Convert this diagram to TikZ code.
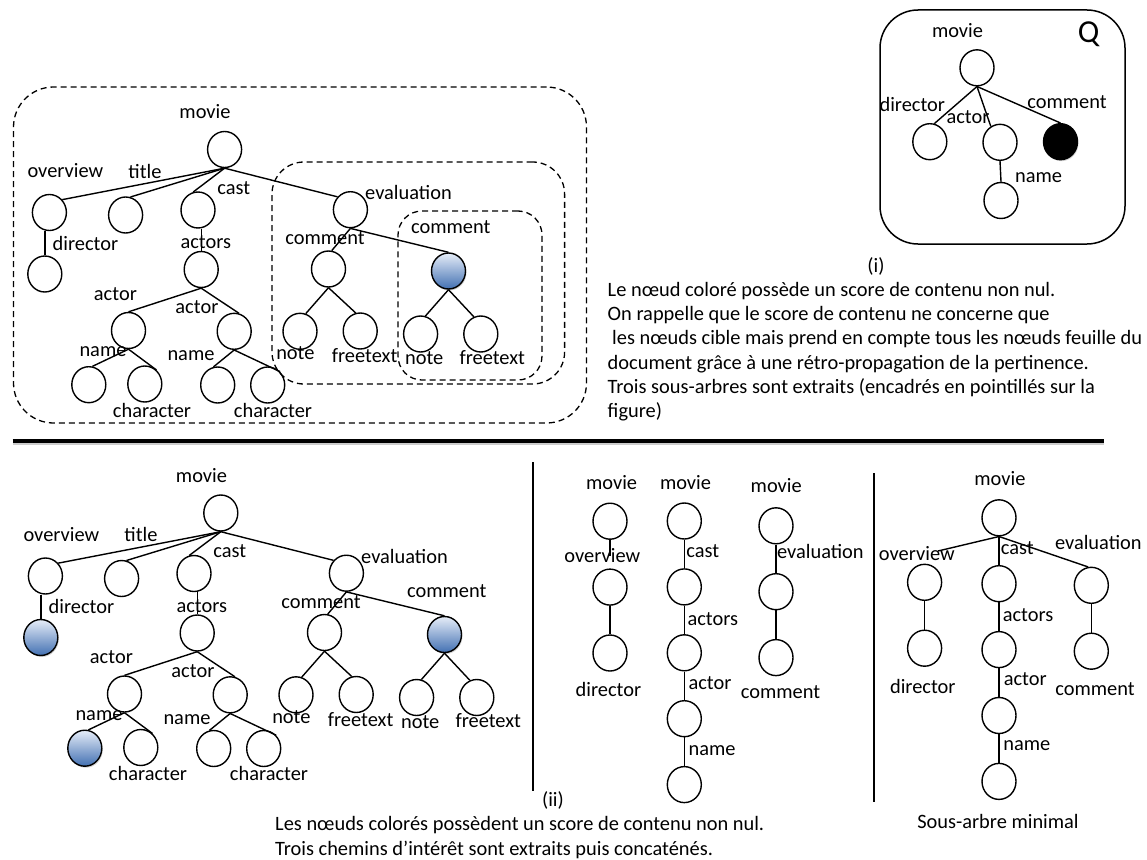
\documentclass[tikz,border=0pt]{standalone}
\usepackage{fontspec}
\setmainfont{Carlito}
\usepackage{tikz}
\usetikzlibrary{shapes.geometric, fit, shadows}
\usetikzlibrary{positioning}
\definecolor{hitlight}{RGB}{230,237,248}
\definecolor{hitdark}{RGB}{66,112,178}
\tikzset{tree-line/.style={line width=1.4pt}}
\tikzset{tree-node/.style={draw, ellipse, line width=1.4pt, inner sep=0, minimum width=34pt, minimum height=36pt}}
\tikzset{tree-hit/.style={tree-node, top color=hitlight, bottom color=hitdark, drop shadow={opacity=0.35, shadow xshift=1pt, shadow yshift=-1.5pt}}}
\tikzset{tree-query/.style={tree-node, fill=black, drop shadow={opacity=0.3, shadow xshift=1pt, shadow yshift=-1.5pt}}}
\tikzset{tree-label/.style={inner sep=0, font=\fontsize{20.4}{24}\selectfont}}
\tikzset{text-line/.style={inner sep=0, anchor=base west, font=\fontsize{20.4}{24}\selectfont}}
\tikzset{box/.style={draw, dash pattern=on 6pt off 4pt, line width=1.3pt, inner sep=0}}

\begin{document}
\begin{tikzpicture}[x=1pt, y=-1pt]
            \useasboundingbox (0,0) rectangle (1147,859);

            % top left tree
            \node[tree-node] (t1-movie) at (224.6,149.5) {};
            \node[tree-node] (t1-overview) at (49.4,212.5) {};
            \node[tree-node] (t1-title) at (125.6,215) {};
            \node[tree-node] (t1-cast) at (198,210) {};
            \node[tree-node] (t1-evaluation) at (350.4,209.7) {};
            \node[tree-node] (t1-director) at (44.8,274) {};
            \node[tree-node] (t1-actors) at (201.2,269.5) {};
            \node[tree-node] (t1-comment1) at (328.5,269) {};
            \node[tree-hit] (t1-comment2) at (448.5,271) {};
            \node[tree-node] (t1-actor1) at (128.5,330.5) {};
            \node[tree-node] (t1-actor2) at (234.2,331.3) {};
            \node[tree-node] (t1-note1) at (300,331.3) {};
            \node[tree-node] (t1-freetext1) at (360.2,331) {};
            \node[tree-node] (t1-note2) at (420.6,334) {};
            \node[tree-node] (t1-freetext2) at (480.8,334) {};
            \node[tree-node] (t1-name1) at (88.8,384.7) {};
            \node[tree-node] (t1-character1) at (144.8,384) {};
            \node[tree-node] (t1-name2) at (217.7,385) {};
            \node[tree-node] (t1-character2) at (267.7,385) {};

            \node[tree-label] (t1-l-movie) at (205,112) {movie};
            \node[tree-label] (t1-l-overview) at (65.4,170.7) {overview};
            \node[tree-label] (t1-l-title) at (145,171) {title};
            \node[tree-label] (t1-l-cast) at (233.8,188) {cast};
            \node[tree-label] (t1-l-evaluation) at (408.5,192.7) {evaluation};
            \node[tree-label] (t1-l-director) at (85.4,243.3) {director};
            \node[tree-label] (t1-l-actors) at (205.8,242.3) {actors};
            \node[tree-label] (t1-l-comment1) at (325,238.3) {comment};
            \node[tree-label] (t1-l-comment2) at (450.8,227.3) {comment};
            \node[tree-label] (t1-l-actor1) at (115.4,294) {actor};
            \node[tree-label] (t1-l-actor2) at (196.9,307.3) {actor};
            \node[tree-label] (t1-l-note1) at (295.4,353.3) {note};
            \node[tree-label] (t1-l-freetext1) at (364.6,356) {freetext};
            \node[tree-label] (t1-l-note2) at (424.2,358.3) {note};
            \node[tree-label] (t1-l-freetext2) at (492.3,357.3) {freetext};
            \node[tree-label] (t1-l-name1) at (103,351.7) {name};
            \node[tree-label] (t1-l-character1) at (152,410) {character};
            \node[tree-label] (t1-l-name2) at (191,356) {name};
            \node[tree-label] (t1-l-character2) at (273,410) {character};

            \draw[tree-line] (t1-movie.south) -- (t1-overview.45);
            \draw[tree-line] (t1-movie.south) -- (t1-title.75);
            \draw[tree-line] (t1-movie.south) -- (t1-cast.105);
            \draw[tree-line] (t1-movie.south) -- (t1-evaluation.135);
            \draw[tree-line] (t1-director.north) -- (t1-director.north |- t1-overview.south);
            \draw[tree-line] (t1-actors.north) -- (t1-actors.north |- t1-cast.south);
            \draw[tree-line] (t1-evaluation.south) -- (t1-comment1.80);
            \draw[tree-line] (t1-evaluation.south) -- (t1-comment2.north);
            \draw[tree-line] (t1-actors.south) -- (t1-actor1.north);
            \draw[tree-line] (t1-actors.south) -- (t1-actor2.75);
            \draw[tree-line] (t1-comment1.south) -- (t1-note1.72);
            \draw[tree-line] (t1-comment1.south) -- (t1-freetext1.104);
            \draw[tree-line] (t1-comment2.south) -- (t1-note2.75);
            \draw[tree-line] (t1-comment2.south) -- (t1-freetext2.112);
            \draw[tree-line] (t1-actor1.south) -- (t1-name1.79);
            \draw[tree-line] (t1-actor1.south) -- (t1-character1.50);
            \draw[tree-line] (t1-actor2.south) -- (t1-name2.103);
            \draw[tree-line] (t1-actor2.south) -- (t1-character2.47);

            \node[box, rounded corners=40pt, fit={(13.5,87) (586.5,423)}] (box-movie) {};
            \node[box, rounded corners=32pt, fit={(272,162) (564.6,384)}] (box-evaluation) {};
            \node[box, rounded corners=24pt, fit={(398,211) (542,380)}] (box-comment) {};

            % query
            \node[draw, line width=1.5pt, rounded corners=38pt, inner sep=0, fit={(880,10) (1125,244)}] (box-query) {};
            \node[tree-node] (q-movie) at (977,67.8) {};
            \node[tree-node] (q-director) at (929.8,141.7) {};
            \node[tree-node] (q-actor) at (1000,142.3) {};
            \node[tree-query] (q-comment) at (1060.5,141.7) {};
            \node[tree-node] (q-name) at (1001,200.5) {};

            \node[tree-label] (q-l-movie) at (957.5,30.7) {movie};
            \node[tree-label] (q-l-director) at (912.3,104) {director};
            \node[tree-label] (q-l-actor) at (968,116.7) {actor};
            \node[tree-label] (q-l-comment) at (1067,102.2) {comment};
            \node[tree-label] (q-l-name) at (1038.6,177.3) {name};
            \node[inner sep=0, font=\fontsize{32}{38}\selectfont] (q-l-query) at (1088.5,34) {Q};

            \draw[tree-line] (q-movie.south) -- (q-director.76);
            \draw[tree-line] (q-movie.south) -- (q-actor.120);
            \draw[tree-line] (q-movie.south) -- (q-comment.north);
            \draw[tree-line] (q-actor.south) -- (q-name.north);

            \node[tree-label, anchor=base] (cap-i) at (876,272) {(i)};
            \node[text-line] (par-1) at (607.5,296.5) {Le nœud coloré possède un score de contenu non nul.};
            \node[text-line] (par-2) at (607.5,320.7) {On rappelle que le score de contenu ne concerne que};
            \node[text-line] (par-3) at (612,344.9) {les nœuds cible mais prend en compte tous les nœuds feuille du};
            \node[text-line] (par-4) at (607.5,369.1) {document grâce à une rétro-propagation de la pertinence.};
            \node[text-line] (par-5) at (607.5,393.3) {Trois sous-arbres sont extraits (encadrés en pointillés sur la};
            \node[text-line] (par-6) at (607.5,417.5) {figure)};

            % separators
            \coordinate (rule-left) at (12.7,440.7);
            \coordinate (rule-right) at (1104,440.7);
            \draw[line width=3pt, black!20] ([yshift=-2.5pt]rule-left) -- ([yshift=-2.5pt]rule-right);
            \draw[line width=4.2pt] (rule-left) -- (rule-right);
            \coordinate (sep1-top) at (533,462);
            \coordinate (sep1-bottom) at (533,791);
            \draw[line width=1.6pt] (sep1-top) -- (sep1-bottom);
            \coordinate (sep2-top) at (874,473);
            \coordinate (sep2-bottom) at (874,801.5);
            \draw[line width=1.6pt] (sep2-top) -- (sep2-bottom);

            % bottom left tree
            \node[tree-node] (t2-movie) at (220.8,513) {};
            \node[tree-node] (t2-overview) at (45.4,576) {};
            \node[tree-node] (t2-title) at (121.6,578.5) {};
            \node[tree-node] (t2-cast) at (194,573.5) {};
            \node[tree-node] (t2-evaluation) at (346.4,573.2) {};
            \node[tree-hit] (t2-director) at (40.8,637.5) {};
            \node[tree-node] (t2-actors) at (197.2,633) {};
            \node[tree-node] (t2-comment1) at (324.5,632.5) {};
            \node[tree-hit] (t2-comment2) at (444.5,634.5) {};
            \node[tree-node] (t2-actor1) at (124.5,694) {};
            \node[tree-node] (t2-actor2) at (230.2,694.8) {};
            \node[tree-node] (t2-note1) at (296,694.8) {};
            \node[tree-node] (t2-freetext1) at (356.2,694.5) {};
            \node[tree-node] (t2-note2) at (416.6,697.5) {};
            \node[tree-node] (t2-freetext2) at (476.8,697.5) {};
            \node[tree-hit] (t2-name1) at (84.8,748.2) {};
            \node[tree-node] (t2-character1) at (140.8,747.5) {};
            \node[tree-node] (t2-name2) at (213.7,748.5) {};
            \node[tree-node] (t2-character2) at (263.7,748.5) {};

            \node[tree-label] (t2-l-movie) at (201.5,476) {movie};
            \node[tree-label] (t2-l-overview) at (61.4,534.2) {overview};
            \node[tree-label] (t2-l-title) at (141,534.5) {title};
            \node[tree-label] (t2-l-cast) at (229.8,551.5) {cast};
            \node[tree-label] (t2-l-evaluation) at (404.5,556.2) {evaluation};
            \node[tree-label] (t2-l-director) at (81.4,606.8) {director};
            \node[tree-label] (t2-l-actors) at (201.8,605.8) {actors};
            \node[tree-label] (t2-l-comment1) at (321,601.8) {comment};
            \node[tree-label] (t2-l-comment2) at (446.8,590.8) {comment};
            \node[tree-label] (t2-l-actor1) at (111.4,657.5) {actor};
            \node[tree-label] (t2-l-actor2) at (192.9,670.8) {actor};
            \node[tree-label] (t2-l-note1) at (291.4,716.8) {note};
            \node[tree-label] (t2-l-freetext1) at (360.6,719.5) {freetext};
            \node[tree-label] (t2-l-note2) at (420.2,721.8) {note};
            \node[tree-label] (t2-l-freetext2) at (488.3,720.8) {freetext};
            \node[tree-label] (t2-l-name1) at (99,715.2) {name};
            \node[tree-label] (t2-l-character1) at (148,773.5) {character};
            \node[tree-label] (t2-l-name2) at (187,719.5) {name};
            \node[tree-label] (t2-l-character2) at (269,773.5) {character};

            \draw[tree-line] (t2-movie.south) -- (t2-overview.45);
            \draw[tree-line] (t2-movie.south) -- (t2-title.75);
            \draw[tree-line] (t2-movie.south) -- (t2-cast.105);
            \draw[tree-line] (t2-movie.south) -- (t2-evaluation.135);
            \draw[tree-line] (t2-director.north) -- (t2-director.north |- t2-overview.south);
            \draw[tree-line] (t2-actors.north) -- (t2-actors.north |- t2-cast.south);
            \draw[tree-line] (t2-evaluation.south) -- (t2-comment1.80);
            \draw[tree-line] (t2-evaluation.south) -- (t2-comment2.north);
            \draw[tree-line] (t2-actors.south) -- (t2-actor1.north);
            \draw[tree-line] (t2-actors.south) -- (t2-actor2.75);
            \draw[tree-line] (t2-comment1.south) -- (t2-note1.72);
            \draw[tree-line] (t2-comment1.south) -- (t2-freetext1.104);
            \draw[tree-line] (t2-comment2.south) -- (t2-note2.75);
            \draw[tree-line] (t2-comment2.south) -- (t2-freetext2.112);
            \draw[tree-line] (t2-actor1.south) -- (t2-name1.79);
            \draw[tree-line] (t2-actor1.south) -- (t2-character1.50);
            \draw[tree-line] (t2-actor2.south) -- (t2-name2.103);
            \draw[tree-line] (t2-actor2.south) -- (t2-character2.47);

            % paths
            \node[tree-node] (a-movie) at (610,521.2) {};
            \node[tree-node, below=28.5pt of a-movie] (a-overview) {};
            \node[tree-node, below=28.5pt of a-overview] (a-director) {};
            \node[tree-label] (a-l-movie) at (611.6,482.7) {movie};
            \node[tree-label] (a-l-overview) at (602.3,556) {overview};
            \node[tree-label] (a-l-director) at (608.4,689) {director};
            \draw[tree-line] (a-movie.south) -- (a-movie.south |- a-l-overview.center);
            \draw[tree-line] (a-overview.south) -- (a-director.north);

            \node[tree-node] (b-movie) at (684.3,521) {};
            \node[tree-node, below=28.5pt of b-movie] (b-cast) {};
            \node[tree-node, below=28.5pt of b-cast] (b-actors) {};
            \node[tree-node, below=28.5pt of b-actors] (b-actor) {};
            \node[tree-node, below=28.5pt of b-actor] (b-name) {};
            \node[tree-label] (b-l-movie) at (685.5,482.7) {movie};
            \node[tree-label] (b-l-cast) at (702.7,550.7) {cast};
            \node[tree-label] (b-l-actors) at (712.8,619) {actors};
            \node[tree-label] (b-l-actor) at (710,683.3) {actor};
            \node[tree-label] (b-l-name) at (712,750.5) {name};
            \draw[tree-line] (b-movie.south) -- (b-cast.north);
            \draw[tree-line] (b-cast.south) -- (b-actors.north);
            \draw[tree-line] (b-actors.south) -- (b-actor.north);
            \draw[tree-line] (b-actor.south) -- (b-name.north);

            \node[tree-node] (c-movie) at (776,525.8) {};
            \node[tree-node, below=28.5pt of c-movie] (c-evaluation) {};
            \node[tree-node, below=28.5pt of c-evaluation] (c-comment) {};
            \node[tree-label] (c-l-movie) at (776.2,486) {movie};
            \node[tree-label] (c-l-evaluation) at (820.4,551) {evaluation};
            \node[tree-label] (c-l-comment) at (780.5,692.5) {comment};
            \draw[tree-line] (c-movie.south) -- (c-evaluation.north);
            \draw[tree-line] (c-evaluation.south) -- (c-comment.north);

            \node[tree-label, anchor=base] (cap-ii) at (553,806.5) {(ii)};
            \node[text-line] (cap-1) at (275,830.8) {Les nœuds colorés possèdent un score de contenu non nul.};
            \node[text-line] (cap-2) at (275,855.3) {Trois chemins d’intérêt sont extraits puis concaténés.};

            % minimal subtree
            \node[tree-node] (m-movie) at (999,517.8) {};
            \node[tree-node] (m-overview) at (924.6,582.3) {};
            \node[tree-node, below=28.5pt of m-movie] (m-cast) {};
            \node[tree-node] (m-evaluation) at (1091.3,585.3) {};
            \node[tree-node, below=28.5pt of m-overview] (m-director) {};
            \node[tree-node, below=28.5pt of m-cast] (m-actors) {};
            \node[tree-node, below=28.5pt of m-actors] (m-actor) {};
            \node[tree-node, below=28.5pt of m-actor] (m-name) {};
            \node[tree-node, below=28.5pt of m-evaluation] (m-comment) {};
            \node[tree-label] (m-l-movie) at (999.9,479) {movie};
            \node[tree-label] (m-l-overview) at (916.8,553.3) {overview};
            \node[tree-label] (m-l-director) at (922.8,686.7) {director};
            \node[tree-label] (m-l-cast) at (1017.2,548.3) {cast};
            \node[tree-label] (m-l-actors) at (1028,615) {actors};
            \node[tree-label] (m-l-actor) at (1025.2,679.3) {actor};
            \node[tree-label] (m-l-name) at (1026.8,746) {name};
            \node[tree-label] (m-l-evaluation) at (1098.3,542.7) {evaluation};
            \node[tree-label] (m-l-comment) at (1095,689.3) {comment};
            \coordinate (m-overview-end) at (938,551);
            \draw[tree-line] (m-movie.south) -- (m-overview-end);
            \draw[tree-line] (m-movie.south) -- (m-cast.north);
            \draw[tree-line] (m-movie.south) -- (m-evaluation.100);
            \draw[tree-line] (m-overview.south) -- (m-director.north);
            \draw[tree-line] (m-cast.south) -- (m-actors.north);
            \draw[tree-line] (m-actors.south) -- (m-actor.north);
            \draw[tree-line] (m-actor.south) -- (m-name.north);
            \draw[tree-line] (m-evaluation.south) -- (m-comment.north);
            \node[tree-label, anchor=base] (cap-minimal) at (998,828.5) {Sous-arbre minimal};

        \end{tikzpicture}
\end{document}
